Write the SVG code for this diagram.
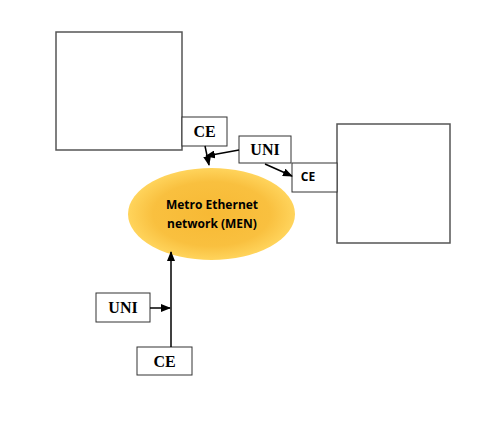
<svg xmlns="http://www.w3.org/2000/svg" width="490" height="438" viewBox="0 0 490 438">
<style>
.big{fill:#fff;stroke:#555;stroke-width:1.5}
.box{fill:#fff;stroke:#333;stroke-width:1}
.tl{font-family:"Liberation Serif",serif;font-weight:bold;font-size:16px;fill:#000;text-anchor:middle}
.ts{font-family:"Open Sans","Liberation Sans",sans-serif;font-weight:bold;font-size:12px;fill:#000;text-anchor:middle}
.c{stroke:#000;stroke-width:1.5;fill:none;marker-end:url(#ah)}
</style>
<defs>
<marker id="ah" markerWidth="10" markerHeight="8" refX="9" refY="4" orient="auto" markerUnits="userSpaceOnUse">
<path d="M0,0 L10,4 L0,8 Z" fill="#000"/>
</marker>
<radialGradient id="g" cx="50%" cy="50%" r="50%">
<stop offset="0" stop-color="#F7B934"/>
<stop offset="0.7" stop-color="#F9C03F"/>
<stop offset="1" stop-color="#FFD45C"/>
</radialGradient>
</defs>
<g id="site1"><rect class="big" x="56" y="32" width="126" height="118"/></g>
<g id="site2"><rect class="big" x="337" y="124" width="113" height="119"/></g>
<g id="men">
<ellipse cx="211.5" cy="214" rx="83.5" ry="46" fill="url(#g)"/>
<text class="ts" x="212" y="209">Metro Ethernet</text>
<text class="ts" x="212" y="228">network (MEN)</text>
</g>
<g id="ce1"><rect class="box" x="182" y="117" width="45" height="29"/><text class="tl" x="204.5" y="137">CE</text></g>
<g id="uni1"><rect class="box" x="239" y="136" width="52" height="27"/><text class="tl" x="265" y="155">UNI</text></g>
<g id="ce2"><rect class="box" x="292" y="163" width="45" height="29"/><text class="ts" x="308" y="181">CE</text></g>
<g id="uni2"><rect class="box" x="96" y="293" width="54" height="29"/><text class="tl" x="123" y="313">UNI</text></g>
<g id="ce3"><rect class="box" x="137" y="347" width="55" height="28"/><text class="tl" x="164.5" y="367">CE</text></g>
<g id="connectors">
<line class="c" x1="205" y1="146" x2="209" y2="165"/>
<line class="c" x1="239" y1="150" x2="206" y2="156"/>
<line class="c" x1="265" y1="164" x2="292" y2="176"/>
<line class="c" x1="171" y1="347" x2="171" y2="252"/>
<line class="c" x1="150" y1="308" x2="170" y2="308"/>
</g>
</svg>
